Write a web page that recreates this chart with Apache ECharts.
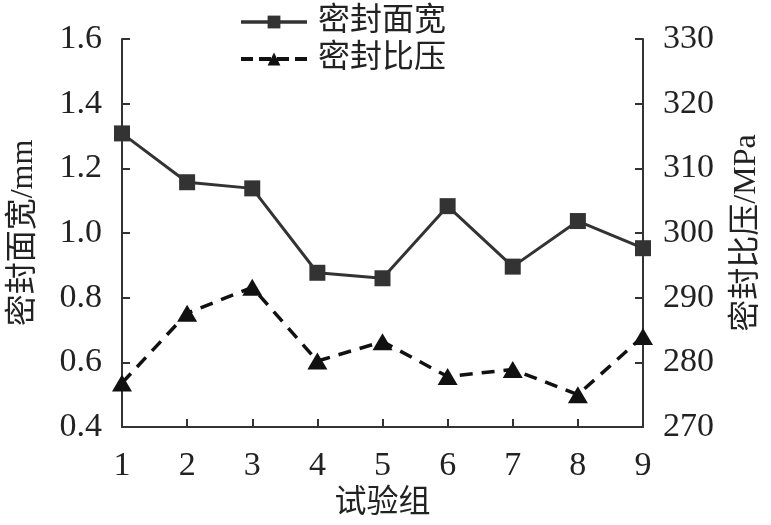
<!DOCTYPE html>
<html>
<head>
<meta charset="utf-8">
<script src="https://cdn.jsdelivr.net/npm/echarts@6/dist/echarts.min.js"></script>
<style>html,body{margin:0;padding:0;background:#fff}#c{width:771px;height:525px}</style>
</head>
<body>
<div id="c"></div>
<script>
const categories = ['1','2','3','4','5','6','7','8','9'];
const widthValues = [1.308, 1.157, 1.138, 0.877, 0.860, 1.083, 0.896, 1.037, 0.953];
const pressureValues = [276.8, 287.6, 291.6, 280.2, 283.2, 277.8, 278.9, 275.0, 284.0];
const seriesNames = ['密封面宽', '密封比压'];
const xName = '试验组';
const leftName = '密封面宽/mm';
const rightName = '密封比压/MPa';

const FONT = '"Liberation Serif", "Times New Roman", "Noto Sans CJK SC", serif';
const AX = '#333';
const chart = echarts.init(document.getElementById('c'), null, {renderer: 'canvas'});
chart.setOption({
  animation: false,
  backgroundColor: '#fff',
  textStyle: {fontFamily: FONT, color: '#222'},
  grid: {left: 117, right: 128, top: 39, bottom: 98, containLabel: false},
  legend: {
    orient: 'vertical',
    left: 234,
    top: 1,
    itemWidth: 66,
    itemHeight: 16,
    itemGap: 5,
    textStyle: {fontFamily: FONT, fontSize: 32, color: '#222', padding: [0, 0, 0, 6]},
    data: [
      {name: seriesNames[0], lineStyle: {width: 3.5, color: '#333'}},
      {name: seriesNames[1], lineStyle: {width: 4, color: '#111', type: [12, 6]}}
    ]
  },
  xAxis: {
    type: 'category',
    data: categories,
    boundaryGap: false,
    name: xName,
    nameLocation: 'middle',
    nameGap: 56,
    nameTextStyle: {fontFamily: FONT, fontSize: 32, color: '#222'},
    axisLine: {lineStyle: {color: AX, width: 2}},
    axisTick: {inside: true, length: 8, lineStyle: {color: AX, width: 2}},
    axisLabel: {fontFamily: FONT, fontSize: 34, color: '#222', margin: 22},
    splitLine: {show: false}
  },
  yAxis: [{
    type: 'value',
    min: 0.4, max: 1.6, interval: 0.2,
    name: leftName,
    nameLocation: 'middle',
    nameRotate: 90,
    nameGap: 82,
    nameTextStyle: {fontFamily: FONT, fontSize: 32, color: '#222'},
    axisLine: {show: true, lineStyle: {color: AX, width: 2}},
    axisTick: {show: true, inside: true, length: 8, lineStyle: {color: AX, width: 2}},
    axisLabel: {fontFamily: FONT, fontSize: 34, color: '#222', margin: 20, formatter: v => v.toFixed(1)},
    splitLine: {show: false}
  }, {
    type: 'value',
    position: 'right',
    min: 270, max: 330, interval: 10,
    name: rightName,
    nameLocation: 'middle',
    nameRotate: 90,
    nameGap: 88,
    nameTextStyle: {fontFamily: FONT, fontSize: 32, color: '#222'},
    axisLine: {show: true, lineStyle: {color: AX, width: 2}},
    axisTick: {show: true, inside: true, length: 8, lineStyle: {color: AX, width: 2}},
    axisLabel: {fontFamily: FONT, fontSize: 34, color: '#222', margin: 20},
    splitLine: {show: false}
  }],
  series: [{
    name: seriesNames[0],
    type: 'line',
    yAxisIndex: 0,
    data: widthValues,
    symbol: 'rect',
    symbolSize: 16,
    itemStyle: {color: '#333'},
    lineStyle: {color: '#333', width: 3}
  }, {
    name: seriesNames[1],
    type: 'line',
    yAxisIndex: 1,
    data: pressureValues,
    symbol: 'triangle',
    symbolSize: [20, 17],
    itemStyle: {color: '#111'},
    lineStyle: {color: '#111', width: 3.5, type: [13, 9]}
  }]
});
</script>
</body>
</html>
